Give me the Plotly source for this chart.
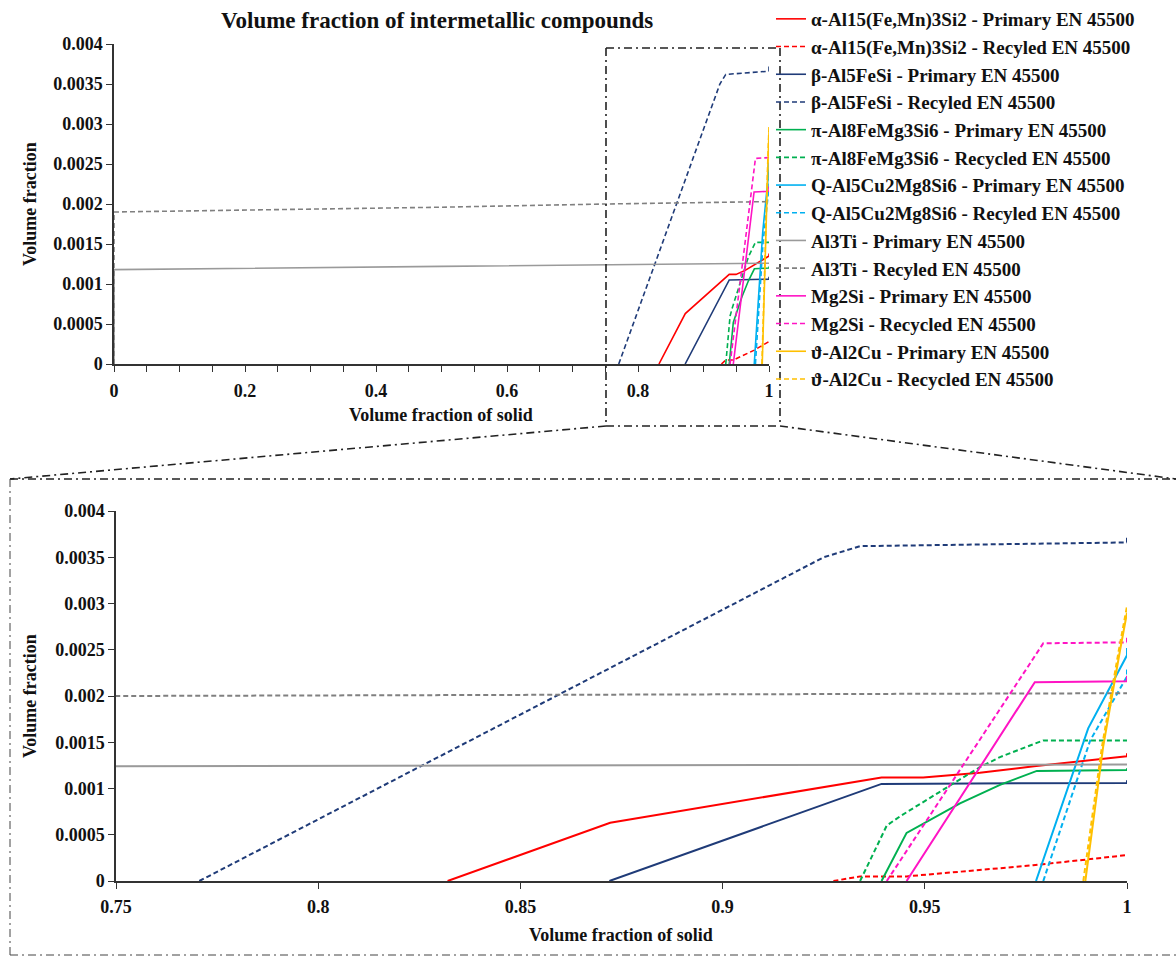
import plotly.graph_objects as go

# ---------------- data ----------------
alpha_prim_x = [0.832, 0.8722, 0.9393, 0.9496, 0.9636, 0.977, 1.0, 1.0]
alpha_prim_y = [0.0, 0.00063, 0.00112, 0.00112, 0.00117, 0.00124, 0.00135, 0.00138]
alpha_rec_x = [0.9274, 0.934, 0.9455, 0.9636, 0.9768, 1.0]
alpha_rec_y = [0.0, 0.00005, 0.00005, 0.00012, 0.00017, 0.00028]

beta_prim_x = [0.872, 0.9393, 1.0, 1.0]
beta_prim_y = [0.0, 0.00105, 0.00106, 0.00109]
beta_rec_x = [0.7706, 0.925, 0.934, 1.0, 1.0]
beta_rec_y = [0.0, 0.0035, 0.00362, 0.00366, 0.00374]

pi_prim_x = [0.9393, 0.9455, 0.9587, 0.9686, 0.9777, 1.0, 1.0]
pi_prim_y = [0.0, 0.00052, 0.00084, 0.00104, 0.00119, 0.0012, 0.00122]
pi_rec_x = [0.934, 0.9406, 0.9439, 0.9636, 0.9686, 0.9793, 1.0]
pi_rec_y = [0.0, 0.0006, 0.0007, 0.00123, 0.00134, 0.00152, 0.00152]

q_prim_x = [0.9775, 0.9904, 1.0, 1.0]
q_prim_y = [0.0, 0.00165, 0.00244, 0.00252]
q_rec_x = [0.9793, 0.9909, 1.0, 1.0]
q_rec_y = [0.0, 0.00152, 0.00221, 0.00232]

ti_prim_x = [0.0, 0.0, 0.5, 0.75, 1.0]
ti_prim_y = [0.0, 0.00118, 0.00122, 0.00124, 0.00126]
ti_rec_x = [0.0, 0.0, 0.5, 0.75, 1.0]
ti_rec_y = [0.0, 0.0019, 0.00196, 0.002, 0.00203]

mg_prim_x = [0.9455, 0.9772, 1.0, 1.0]
mg_prim_y = [0.0, 0.00215, 0.00216, 0.00222]
mg_rec_x = [0.9406, 0.9793, 1.0, 1.0]
mg_rec_y = [0.0, 0.00257, 0.00258, 0.00263]

cu_prim_x = [0.9897, 0.9941, 0.9983, 1.0]
cu_prim_y = [0.0, 0.00145, 0.0025, 0.0029]
cu_rec_x = [0.9892, 0.9938, 0.998, 1.0]
cu_rec_y = [0.0, 0.00145, 0.0025, 0.00297]

series_names = [
    "α-Al15(Fe,Mn)3Si2 - Primary EN 45500",
    "α-Al15(Fe,Mn)3Si2 - Recyled EN 45500",
    "β-Al5FeSi - Primary EN 45500",
    "β-Al5FeSi - Recyled EN 45500",
    "π-Al8FeMg3Si6 - Primary EN 45500",
    "π-Al8FeMg3Si6 - Recycled EN 45500",
    "Q-Al5Cu2Mg8Si6 - Primary EN 45500",
    "Q-Al5Cu2Mg8Si6 - Recyled EN 45500",
    "Al3Ti - Primary EN 45500",
    "Al3Ti - Recyled EN 45500",
    "Mg2Si - Primary EN 45500",
    "Mg2Si - Recycled EN 45500",
    "ϑ-Al2Cu - Primary EN 45500",
    "ϑ-Al2Cu - Recycled EN 45500",
]
series_x = [alpha_prim_x, alpha_rec_x, beta_prim_x, beta_rec_x, pi_prim_x, pi_rec_x,
            q_prim_x, q_rec_x, ti_prim_x, ti_rec_x, mg_prim_x, mg_rec_x, cu_prim_x, cu_rec_x]
series_y = [alpha_prim_y, alpha_rec_y, beta_prim_y, beta_rec_y, pi_prim_y, pi_rec_y,
            q_prim_y, q_rec_y, ti_prim_y, ti_rec_y, mg_prim_y, mg_rec_y, cu_prim_y, cu_rec_y]
series_colors = ["#FF0000", "#FF0000", "#1F3B78", "#1F3B78", "#00B050", "#00B050",
                 "#00B0F0", "#00B0F0", "#9A9A9A", "#808080", "#FF14C4", "#FF14C4",
                 "#FFC000", "#FFC000"]
series_dashed = [False, True] * 7

y_ticks = [0, 0.0005, 0.001, 0.0015, 0.002, 0.0025, 0.003, 0.0035, 0.004]
y_labels = ["0", "0.0005", "0.001", "0.0015", "0.002", "0.0025", "0.003", "0.0035", "0.004"]
top_x_ticks = [0, 0.2, 0.4, 0.6, 0.8, 1]
top_x_labels = ["0", "0.2", "0.4", "0.6", "0.8", "1"]
bot_x_ticks = [0.75, 0.8, 0.85, 0.9, 0.95, 1]
bot_x_labels = ["0.75", "0.8", "0.85", "0.9", "0.95", "1"]

# ---------------- layout helpers ----------------
W, H = 1176, 957
def px_x(p):
    return p / W
def px_y(p):
    return 1 - p / H

FONT = "Liberation Serif"
AX = "#333333"

fig = go.Figure()
for name, xs, ys, col, dsh in zip(series_names, series_x, series_y, series_colors, series_dashed):
    fig.add_trace(go.Scatter(
        x=xs, y=ys, mode="lines", name=name, legendgroup=name,
        line=dict(color=col, width=1.6, dash="5px,3px" if dsh else "solid"),
        xaxis="x", yaxis="y", showlegend=True, hoverinfo="skip"))
for name, xs, ys, col, dsh in zip(series_names, series_x, series_y, series_colors, series_dashed):
    fig.add_trace(go.Scatter(
        x=xs, y=ys, mode="lines", name=name, legendgroup=name,
        line=dict(color=col, width=2, dash="5px,3px" if dsh else "solid"),
        xaxis="x2", yaxis="y2", showlegend=False, hoverinfo="skip"))

tickfont = dict(family=FONT, size=18, color="#111111", weight="bold")
common_axis = dict(showgrid=False, zeroline=False, showline=True, linecolor=AX, linewidth=1.5,
                   ticks="outside", ticklen=6, tickwidth=1.3, tickcolor=AX, tickfont=tickfont,
                   automargin=False)

fig.update_layout(
    width=W, height=H,
    margin=dict(l=0, r=0, t=0, b=0, autoexpand=False),
    paper_bgcolor="white", plot_bgcolor="white",
    xaxis=dict(domain=[px_x(114), px_x(769)], range=[0, 1], anchor="y",
               tickvals=top_x_ticks, ticktext=top_x_labels, ticklabelstandoff=4,
               minor=dict(dtick=0.05, tick0=0, ticks="outside", ticklen=6, tickcolor=AX, tickwidth=1.3),
               **common_axis),
    yaxis=dict(domain=[px_y(364), px_y(44)], range=[0, 0.004], anchor="x",
               tickvals=y_ticks, ticktext=y_labels, **common_axis),
    xaxis2=dict(domain=[px_x(116), px_x(1127)], range=[0.75, 1], anchor="y2",
                tickvals=bot_x_ticks, ticktext=bot_x_labels, ticklabelstandoff=3, **common_axis),
    yaxis2=dict(domain=[px_y(881), px_y(511)], range=[0, 0.004], anchor="x2",
                tickvals=y_ticks, ticktext=y_labels, **common_axis),
    legend=dict(x=px_x(771), y=1.0, xanchor="left", yanchor="top",
                font=dict(family=FONT, size=19, color="#111111", weight="bold"),
                bgcolor="rgba(0,0,0,0)", tracegroupgap=0, itemwidth=30,
                traceorder="normal"),
    showlegend=True,
)

title_font = dict(family=FONT, size=23, color="#111111", weight="bold")
label_font = dict(family=FONT, size=18, color="#111111", weight="bold")
annotations = [
    dict(text="Volume fraction of intermetallic compounds", x=px_x(437), y=px_y(20),
         xref="paper", yref="paper", showarrow=False, font=title_font, xanchor="center", yanchor="middle"),
    dict(text="Volume fraction of solid", x=px_x(441), y=px_y(415),
         xref="paper", yref="paper", showarrow=False, font=label_font, xanchor="center", yanchor="middle"),
    dict(text="Volume fraction", x=px_x(30), y=px_y(204), textangle=-90,
         xref="paper", yref="paper", showarrow=False, font=label_font, xanchor="center", yanchor="middle"),
    dict(text="Volume fraction of solid", x=px_x(621), y=px_y(935),
         xref="paper", yref="paper", showarrow=False, font=label_font, xanchor="center", yanchor="middle"),
    dict(text="Volume fraction", x=px_x(30), y=px_y(696), textangle=-90,
         xref="paper", yref="paper", showarrow=False, font=label_font, xanchor="center", yanchor="middle"),
]
fig.update_layout(annotations=annotations)

DD = "8px,4px,2px,4px"
frame = dict(color="#222222", width=1.6, dash=DD)
thin = dict(color="#444444", width=1.0, dash=DD)
def seg(x0, y0, x1, y1, ln):
    return dict(type="line", xref="paper", yref="paper",
                x0=px_x(x0), y0=px_y(y0), x1=px_x(x1), y1=px_y(y1), line=ln)
shapes = [
    seg(606, 48, 780, 48, frame),
    seg(606, 48, 606, 426, frame),
    seg(780, 48, 780, 426, frame),
    seg(606, 426, 780, 426, frame),
    seg(606, 426, 10, 479, frame),
    seg(780, 426, 1176, 479, frame),
    seg(10, 479, 1176, 479, frame),
    seg(10, 479, 10, 955, thin),
    seg(10, 955, 1176, 955, thin),
]
fig.update_layout(shapes=shapes)

fig.write_html("out.html")
